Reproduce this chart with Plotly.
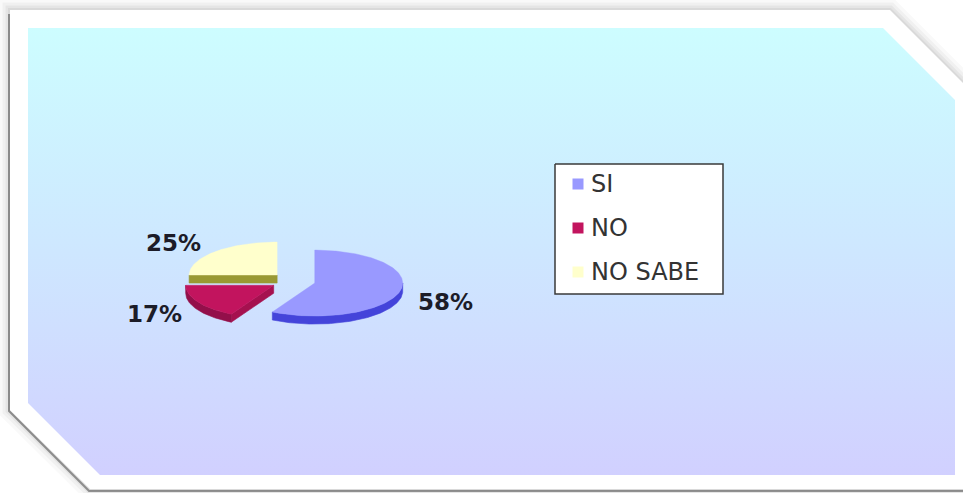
import numpy as np
import plotly.graph_objects as go

# --- data -------------------------------------------------------------
categories = ["SI", "NO", "NO SABE"]
shares = [58, 17, 25]                      # percent
top_colors = ["#9999FF", "#C2145E", "#FFFFCC"]
rim_colors = ["#4444DA", "#930F4A", "#999933"]
cut_colors = ["#5555E0", "#A5114F", "#999933"]

# --- canvas / pie geometry (pixel units) ------------------------------
W, H = 963, 493
CX, CY = 293.0, 281.0        # pie centre
RX, RY = 88.0, 33.0          # ellipse radii of the tilted disc
DEPTH = 8.0                  # thickness of the disc
EXPLODE = 0.255              # slice offset as a fraction of the radius
label_shift = [(16, -11), (-14, -12), (-12, 9)]   # label nudges (px)

fig = go.Figure()


def ell(theta, ox=0.0, oy=0.0, dz=0.0):
    t = np.radians(theta)
    return CX + ox + RX * np.sin(t), CY + oy - RY * np.cos(t) + dz


def add_poly(xs, ys, color, width=0.6):
    xs = list(xs) + [xs[0]]
    ys = list(ys) + [ys[0]]
    fig.add_trace(go.Scatter(
        x=xs, y=ys, mode="lines", fill="toself", fillcolor=color,
        line=dict(color=color, width=width), hoverinfo="skip",
        showlegend=False))


# --- frame ------------------------------------------------------------
outer = [(10, 10), (890, 10), (975, 95), (975, 489), (90, 489), (10, 410)]
inner = [(28, 28), (883, 28), (955, 100), (955, 475), (100, 475), (28, 403)]


def path_of(pts, dx=0, dy=0):
    s = "M " + " L ".join(f"{x+dx},{y+dy}" for x, y in pts) + " Z"
    return s


shapes = []
for w, a in [(22, 0.025), (15, 0.035), (9, 0.045), (4, 0.05)]:
    shapes.append(dict(type="path", path=path_of(outer), layer="below",
                       line=dict(color=f"rgba(0,0,0,{a})", width=w),
                       fillcolor="rgba(0,0,0,0)"))
# darker edge on the lower-left side
shapes.append(dict(type="path",
                   path=f"M 9,14 L 9,411 L 89,491 L 975,491",
                   layer="below", line=dict(color="rgba(60,60,60,0.5)", width=2)))
shapes.append(dict(type="path", path=path_of(outer), layer="below",
                   line=dict(width=0), fillcolor="#FFFFFF"))

# gradient background panel
ix = [p[0] for p in inner] + [inner[0][0]]
iy = [p[1] for p in inner] + [inner[0][1]]
fig.add_trace(go.Scatter(
    x=ix, y=iy, mode="lines", fill="toself", line=dict(width=0),
    fillgradient=dict(type="vertical",
                      colorscale=[[0, "#CDFDFF"], [0.5, "#CEE7FF"], [1, "#D1D0FF"]],
                      start=28, stop=475),
    hoverinfo="skip", showlegend=False))

# --- 3-D exploded pie -------------------------------------------------
total = float(sum(shares))
bounds = []
acc = 0.0
for v in shares:
    a0 = acc / total * 360.0
    acc += v
    a1 = acc / total * 360.0
    bounds.append((a0, a1))

slices = []
for i, (a0, a1) in enumerate(bounds):
    mid = 0.5 * (a0 + a1)
    ox = EXPLODE * RX * np.sin(np.radians(mid))
    oy = -EXPLODE * RY * np.cos(np.radians(mid))
    slices.append((i, a0, a1, mid, ox, oy))

# back-to-front drawing order
order = sorted(slices, key=lambda s: -np.cos(np.radians(s[3])))

for i, a0, a1, mid, ox, oy in order:
    apx, apy = CX + ox, CY + oy
    # radial cut faces that face the viewer
    for edge, visible in [(a0, np.sin(np.radians(a0)) < -1e-6),
                          (a1, np.sin(np.radians(a1)) > 1e-6)]:
        if visible:
            ex, ey = ell(edge, ox, oy)
            add_poly([apx, ex, ex, apx], [apy, ey, ey + DEPTH, apy + DEPTH],
                     cut_colors[i])
    # curved rim on the front half
    lo, hi = max(a0, 90.0), min(a1, 270.0)
    if hi - lo > 0.5:
        th = np.linspace(lo, hi, int(hi - lo) + 2)
        tx, ty = ell(th, ox, oy)
        bx, by = ell(th[::-1], ox, oy, DEPTH)
        add_poly(np.concatenate([tx, bx]), np.concatenate([ty, by]), rim_colors[i])
    # top face
    th = np.linspace(a0, a1, int(a1 - a0) + 2)
    tx, ty = ell(th, ox, oy)
    add_poly(np.concatenate([[apx], tx]), np.concatenate([[apy], ty]),
             top_colors[i], width=0.4)

# percentage labels
annotations = []
for (i, a0, a1, mid, ox, oy) in slices:
    lx, ly = ell(mid, ox, oy)
    right = np.sin(np.radians(mid)) > 0
    dx, dy = label_shift[i]
    annotations.append(dict(
        x=lx, y=ly, xref="x", yref="y", text=f"{shares[i]}%", showarrow=False,
        xanchor="left" if right else "right", yanchor="middle",
        xshift=dx, yshift=dy,
        font=dict(family="DejaVu Sans", size=23, color="#1C1C28", weight="bold")))

# --- legend -----------------------------------------------------------
LX0, LY0, LX1, LY1 = 555, 164, 723, 294
fig.add_trace(go.Scatter(
    x=[LX0, LX1, LX1, LX0, LX0], y=[LY0, LY0, LY1, LY1, LY0], mode="lines",
    fill="toself", fillcolor="#FFFFFF", line=dict(color="#3A3A3A", width=1.5),
    hoverinfo="skip", showlegend=False))
row_y = [184, 228, 272]
fig.add_trace(go.Scatter(
    x=[578] * len(categories), y=row_y, mode="markers",
    marker=dict(symbol="square", size=11, color=top_colors, line=dict(width=0)),
    hoverinfo="skip", showlegend=False))
for name, yy in zip(categories, row_y):
    annotations.append(dict(
        x=589, y=yy, xref="x", yref="y", text=name, showarrow=False,
        xanchor="left", yanchor="middle",
        font=dict(family="DejaVu Sans", size=24, color="#333333")))

fig.update_layout(
    width=W, height=H, autosize=False,
    margin=dict(l=0, r=0, t=0, b=0, pad=0),
    paper_bgcolor="#FFFFFF", plot_bgcolor="rgba(0,0,0,0)",
    xaxis=dict(range=[0, W], visible=False, fixedrange=True),
    yaxis=dict(range=[H, 0], visible=False, fixedrange=True),
    shapes=shapes, annotations=annotations, showlegend=False)

fig.write_html("out.html")
